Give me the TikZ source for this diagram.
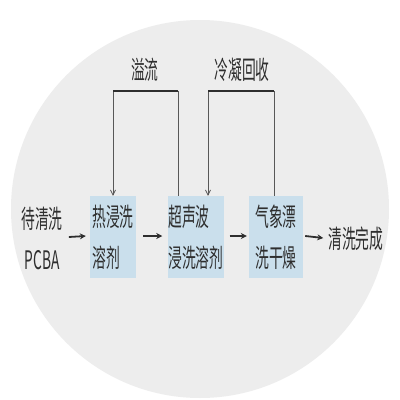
\documentclass[tikz,border=0pt]{standalone}
\usepackage{fontspec}
\newfontfamily\cnfont{Noto Sans CJK SC}[FakeStretch=0.54]
\usetikzlibrary{arrows.meta,calc}
\definecolor{bgcirc}{HTML}{EDEDED}
\definecolor{boxblue}{HTML}{CADFEC}
\definecolor{ink}{HTML}{2E2E2E}
\begin{document}
\begin{tikzpicture}[x=1pt,y=-1pt,
  txt/.style={font=\cnfont\fontsize{25.5}{41}\selectfont, text=ink, inner sep=0pt, align=left},
  stage/.style={txt, fill=boxblue, minimum height=82pt, anchor=center},
  flow/.style={draw=ink, line width=1.8pt, -{Stealth[length=6pt,width=6pt]}},
  fb/.style={draw=ink!80, line width=0.8pt},
  fbarrow/.style={fb, -{Straight Barb[length=5pt,width=5pt]}},
  fbtop/.style={draw=ink, line width=1.6pt}]
\useasboundingbox (0,0) rectangle (400,400);
\fill[white] (0,0) rectangle (400,400);
\fill[bgcirc] (200,209) circle (189);
\node[txt, align=center] (src) at (42,238) {待清洗\\PCBA};
\node[stage, minimum width=46pt] (b1) at (113,237) {热浸洗\\溶剂};
\node[stage, minimum width=54pt] (b2) at (196,237) {超声波\\浸洗溶剂};
\node[stage, minimum width=54pt] (b3) at (276,237) {气象漂\\洗干燥};
\node[txt] (dst) at (356,239) {清洗完成};
\draw[flow] ([xshift=6pt,yshift=1pt]src.east) -- ([xshift=-4pt,yshift=1pt]b1.west);
\draw[flow] ([xshift=7pt,yshift=1pt]b1.east) -- ([xshift=-6pt,yshift=1pt]b2.west);
\draw[flow] ([xshift=6pt,yshift=1pt]b2.east) -- ([xshift=-2pt,yshift=1pt]b3.west);
\draw[flow] ([xshift=2pt,yshift=1pt]b3.east) -- ([xshift=-5pt,yshift=1pt]dst.west);
% feedback loops
\coordinate (l1a) at (178,91);
\coordinate (l1b) at (113,91);
\coordinate (l2a) at (274,91);
\coordinate (l2b) at (208,91);
\draw[fb] (b2.north -| l1a) -- (l1a);
\draw[fbarrow] (l1b) -- (b1.north);
\draw[fbtop] ([xshift=0.4pt]l1a) -- ([xshift=-0.4pt]l1b);
\draw[fb] (b3.north -| l2a) -- (l2a);
\draw[fbarrow] (l2b) -- (b2.north -| l2b);
\draw[fbtop] ([xshift=0.4pt]l2a) -- ([xshift=-0.4pt]l2b);
\node[txt] (lab1) at (145,70) {溢流};
\node[txt] (lab2) at (242,70) {冷凝回收};
\end{tikzpicture}
\end{document}
